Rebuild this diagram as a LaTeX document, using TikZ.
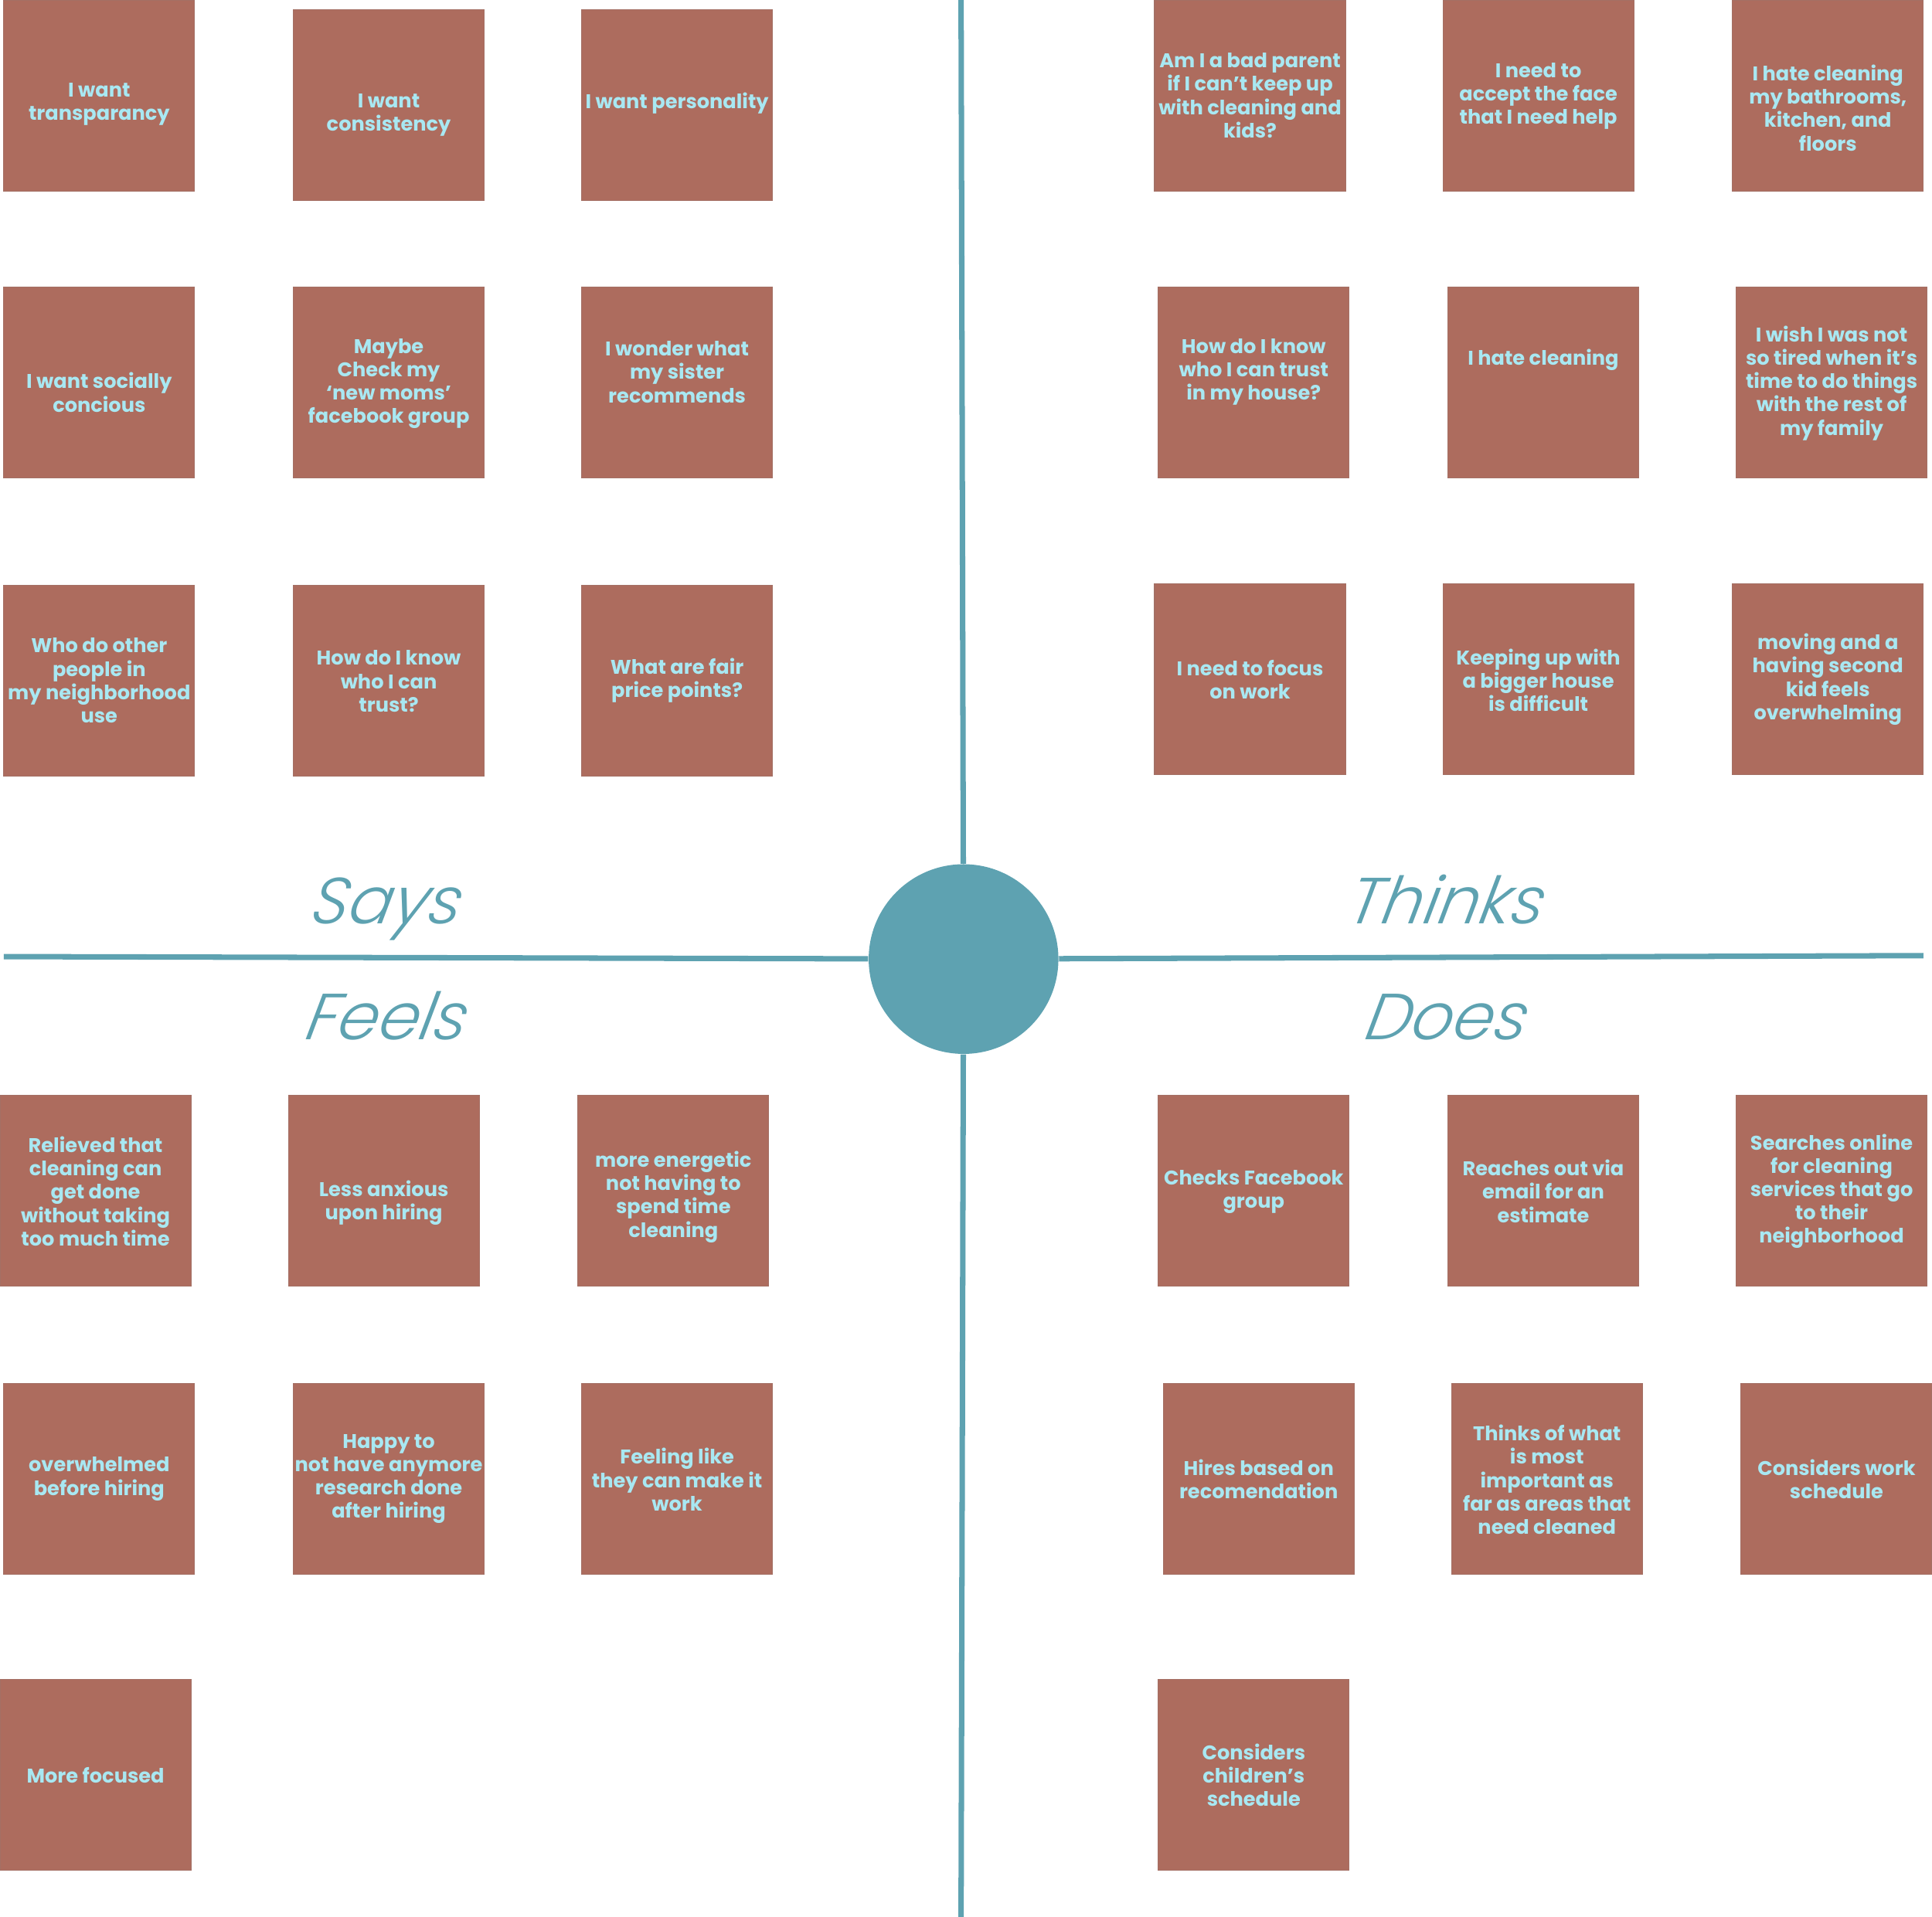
\documentclass[tikz,border=0pt]{standalone}
\usepackage{fontspec}
\setmainfont{Poppins}
\newfontfamily\headfont{Poppins Light Italic}[FakeSlant=0.2]
\definecolor{brick}{HTML}{AD6C5E}
\definecolor{icy}{HTML}{A8E8F2}
\definecolor{mapteal}{HTML}{5EA2B1}

\begin{document}
\begin{tikzpicture}[x=0.015944cm,y=-0.015944cm]
\tikzset{
  sticky/.style={rectangle,fill=brick,draw=brick!80!gray,line width=0.3pt,minimum size=2.471cm,inner sep=0pt},
  note/.style={text=icy,font=\bfseries\fontsize{7.3}{8.6}\selectfont,align=center,inner sep=0pt},
  quadrant/.style={text=mapteal,font=\headfont\fontsize{24}{27}\selectfont,anchor=base},
  axis/.style={draw=mapteal,line width=2pt}
}
\useasboundingbox (0,0) rectangle (1568,1556);
% centre of the map
\node[circle,fill=mapteal,minimum size=2.455cm,inner sep=0pt] (hub) at (782,778.5) {};
\coordinate (axtop) at (780,0);
\coordinate (axbot) at (780,1556);
\coordinate (axleft) at (3,776.5);
\coordinate (axright) at (1561,775.7);
\draw[axis] (axtop) -- (hub);
\draw[axis] (hub) -- (axbot);
\draw[axis] (axleft) -- (hub);
\draw[axis] (hub) -- (axright);
% quadrant titles
\node[quadrant] (says) at (312,750) {Says};
\node[quadrant] (thinks) at (1172,750) {Thinks};
\node[quadrant] (feels) at (312,844) {Feels};
\node[quadrant] (does) at (1172,844) {Does};
% says
\node[sticky] (says1) at (80.5,77.5) {};
\node[sticky] (says2) at (315.5,85.5) {};
\node[sticky] (says3) at (549.5,85.5) {};
\node[sticky] (says4) at (80.5,310.5) {};
\node[sticky] (says5) at (315.5,310.5) {};
\node[sticky] (says6) at (549.5,310.5) {};
\node[sticky] (says7) at (80.5,552.5) {};
\node[sticky] (says8) at (315.5,552.5) {};
\node[sticky] (says9) at (549.5,552.5) {};
\node[note] (says1t) at (80.5,84.5) {I want\\transparancy};
\node[note] (says2t) at (315.5,93.5) {I want\\consistency};
\node[note] (says3t) at (549.5,84) {I want personality};
\node[note] (says4t) at (80.5,318.5) {I want socially\\concious};
\node[note] (says5t) at (315.5,311.5) {Maybe\\Check my\\‘new moms’\\facebook group};
\node[note] (says6t) at (549.5,302) {I wonder what\\my sister\\recommends};
\node[note] (says7t) at (80.5,552.5) {Who do other\\people in\\my neighborhood\\use};
\node[note] (says8t) at (315.5,553) {How do I know\\who I can\\trust?};
\node[note] (says9t) at (549.5,552.5) {What are fair\\price points?};
% thinks
\node[sticky] (thinks1) at (1014.5,77.5) {};
\node[sticky] (thinks2) at (1248.5,77.5) {};
\node[sticky] (thinks3) at (1483.5,77.5) {};
\node[sticky] (thinks4) at (1017.5,310.5) {};
\node[sticky] (thinks5) at (1252.5,310.5) {};
\node[sticky] (thinks6) at (1486.5,310.5) {};
\node[sticky] (thinks7) at (1014.5,551.5) {};
\node[sticky] (thinks8) at (1248.5,551.5) {};
\node[sticky] (thinks9) at (1483.5,551.5) {};
\node[note] (thinks1t) at (1014.5,77.5) {Am I a bad parent\\if I can’t keep up\\with cleaning and\\kids?};
\node[note] (thinks2t) at (1248.5,78) {I need to\\accept the face\\that I need help};
\node[note] (thinks3t) at (1483.5,87.5) {I hate cleaning\\my bathrooms,\\kitchen, and\\floors};
\node[note] (thinks4t) at (1017.5,302) {How do I know\\who I can trust\\in my house?};
\node[note] (thinks5t) at (1252.5,292) {I hate cleaning};
\node[note] (thinks6t) at (1486.5,311) {I wish I was not\\so tired when it’s\\time to do things\\with the rest of\\my family};
\node[note] (thinks7t) at (1014.5,551.5) {I need to focus\\on work};
\node[note] (thinks8t) at (1248.5,552) {Keeping up with\\a bigger house\\is difficult};
\node[note] (thinks9t) at (1483.5,551.5) {moving and a\\having second\\kid feels\\overwhelming};
% feels
\node[sticky] (feels1) at (77.5,966.5) {};
\node[sticky] (feels2) at (311.5,966.5) {};
\node[sticky] (feels3) at (546.5,966.5) {};
\node[sticky] (feels4) at (80.5,1200.5) {};
\node[sticky] (feels5) at (315.5,1200.5) {};
\node[sticky] (feels6) at (549.5,1200.5) {};
\node[sticky] (feels7) at (77.5,1440.5) {};
\node[note] (feels1t) at (77.5,967) {Relieved that\\cleaning can\\get done\\without taking\\too much time};
\node[note] (feels2t) at (311.5,976.5) {Less anxious\\upon hiring};
\node[note] (feels3t) at (546.5,971.5) {more energetic\\not having to\\spend time\\cleaning};
\node[note] (feels4t) at (80.5,1200.5) {overwhelmed\\before hiring};
\node[note] (feels5t) at (315.5,1200.5) {Happy to\\not have anymore\\research done\\after hiring};
\node[note] (feels6t) at (549.5,1201) {Feeling like\\they can make it\\work};
\node[note] (feels7t) at (77.5,1441) {More focused};
% does
\node[sticky] (does1) at (1017.5,966.5) {};
\node[sticky] (does2) at (1252.5,966.5) {};
\node[sticky] (does3) at (1486.5,966.5) {};
\node[sticky] (does4) at (1021.5,1200.5) {};
\node[sticky] (does5) at (1255.5,1200.5) {};
\node[sticky] (does6) at (1490.5,1200.5) {};
\node[sticky] (does7) at (1017.5,1440.5) {};
\node[note] (does1t) at (1017.5,967.5) {Checks Facebook\\group};
\node[note] (does2t) at (1252.5,967) {Reaches out via\\email for an\\estimate};
\node[note] (does3t) at (1486.5,967) {Searches online\\for cleaning\\services that go\\to their\\neighborhood};
\node[note] (does4t) at (1021.5,1200.5) {Hires based on\\recomendation};
\node[note] (does5t) at (1255.5,1201) {Thinks of what\\is most\\important as\\far as areas that\\need cleaned};
\node[note] (does6t) at (1490.5,1200.5) {Considers work\\schedule};
\node[note] (does7t) at (1017.5,1441) {Considers\\children’s\\schedule};
\end{tikzpicture}
\end{document}
